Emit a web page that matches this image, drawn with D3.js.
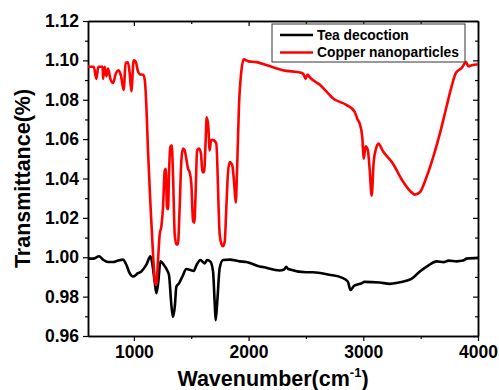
<!DOCTYPE html>
<html>
<head>
<meta charset="utf-8">
<script src="https://cdn.jsdelivr.net/npm/d3@7"></script>
<style>
	body { margin: 0; background: #fff; }
	svg text { font-family: "Liberation Sans", Arial, sans-serif; font-weight: bold; }
</style>
</head>
<body>
<div id="chart"></div>
<script>
// FTIR spectra (wavenumber in cm-1, transmittance)
const copperWn = [600, 650, 673, 690, 728, 731, 745, 760, 775, 795, 818, 845, 868, 888, 911, 928, 948, 963, 978, 998,
	1015, 1036, 1050, 1080, 1095, 1109, 1123, 1143, 1167, 1184, 1196, 1210, 1225, 1240, 1254, 1269, 1278, 1289, 1298, 1306,
	1318, 1330, 1341, 1356, 1370, 1384, 1399, 1414, 1428, 1443, 1457, 1472, 1486, 1501, 1516, 1527, 1539, 1551, 1568, 1585,
	1597, 1612, 1626, 1635, 1649, 1661, 1673, 1690, 1718, 1748, 1765, 1777, 1792, 1806, 1820, 1835, 1858, 1875, 1888, 1900,
	1916, 1936, 1957, 2000, 2067, 2183, 2299, 2459, 2480, 2497, 2515, 2530, 2619, 2704, 2735, 2852, 2924, 2950, 2968, 2991,
	3003, 3020, 3040, 3055, 3073, 3090, 3110, 3131, 3170, 3259, 3340, 3420, 3450, 3493, 3551, 3610, 3668, 3726, 3770, 3808,
	3858, 3896, 3915, 3945, 4000];
const copperT = [1.0968, 1.0968, 1.0906, 1.0968, 1.0968, 1.0906, 1.0968, 1.092, 1.0958, 1.0906, 1.0885, 1.0937, 1.095, 1.092, 1.085, 1.0988, 1.099, 1.0937, 1.0843, 1.1,
	1.0995, 1.0944, 1.093, 1.0927, 1.0901, 1.0766, 1.0543, 1.0287, 1.0013, 0.9876, 0.986, 0.998, 1.0116, 1.0158, 1.0253, 1.044, 1.0449, 1.0253, 1.0244, 1.042,
	1.056, 1.0569, 1.042, 1.0116, 1.0065, 1.0065, 1.0253, 1.0492, 1.0552, 1.0543, 1.05, 1.045, 1.0432, 1.0372, 1.0184, 1.0176, 1.0339, 1.0543, 1.0552, 1.0526,
	1.0432, 1.0432, 1.0595, 1.0711, 1.0663, 1.0543, 1.0595, 1.0595, 1.0578, 1.0116, 1.0065, 1.0056, 1.008, 1.0253, 1.0424, 1.0484, 1.0466, 1.037, 1.0278, 1.045,
	1.0766, 1.094, 1.1005, 1.0995, 1.0991, 1.0971, 1.095, 1.0937, 1.0928, 1.0906, 1.0928, 1.0916, 1.0877, 1.0826, 1.0808, 1.0774, 1.074, 1.07, 1.068, 1.0612,
	1.05, 1.0564, 1.0543, 1.045, 1.0313, 1.048, 1.055, 1.0578, 1.054, 1.0475, 1.039, 1.033, 1.0318, 1.033, 1.0407, 1.051, 1.0629, 1.0766, 1.0868, 1.0937,
	1.0962, 1.0991, 1.0971, 1.0975, 1.098];

const teaWn = [600, 650, 696, 731, 774, 818, 862, 905, 934, 963, 992, 1036, 1065, 1109, 1144, 1160, 1181, 1196, 1213, 1231,
	1260, 1289, 1306, 1327, 1341, 1358, 1370, 1393, 1422, 1458, 1487, 1522, 1545, 1580, 1597, 1618, 1638, 1667, 1690, 1704,
	1713, 1727, 1748, 1777, 1835, 1923, 1980, 2097, 2125, 2270, 2310, 2328, 2345, 2500, 2561, 2704, 2806, 2865, 2888, 2920,
	2950, 2982, 3010, 3142, 3230, 3310, 3420, 3493, 3566, 3639, 3700, 3745, 3814, 3870, 3902, 4000];
const teaT = [0.9993, 0.9993, 1.0005, 0.9988, 0.9976, 0.9976, 0.9983, 0.9988, 0.9962, 0.9919, 0.9902, 0.9919, 0.9928, 0.9962, 1.0005, 0.997, 0.9876, 0.9817, 0.9876, 0.9979,
	0.9962, 0.9935, 0.991, 0.9757, 0.9697, 0.9757, 0.985, 0.9867, 0.9901, 0.994, 0.9936, 0.9931, 0.9959, 0.9986, 0.9978, 0.9969, 0.9986, 0.9978, 0.9928, 0.9775,
	0.968, 0.9775, 0.9945, 0.9986, 0.9988, 0.9979, 0.9976, 0.9953, 0.995, 0.9933, 0.9938, 0.9952, 0.994, 0.9924, 0.9924, 0.9911, 0.9898, 0.9877, 0.9834, 0.9855,
	0.9862, 0.9867, 0.9875, 0.9872, 0.9865, 0.9872, 0.989, 0.9928, 0.9958, 0.9979, 0.9975, 0.9983, 0.9979, 0.9983, 0.9993, 0.9997];

const xTicks = [1000, 2000, 3000, 4000];
const xMinor = [1500, 2500, 3500];
const yTicks = [0.96, 0.98, 1.0, 1.02, 1.04, 1.06, 1.08, 1.1, 1.12];
const yMinor = [0.97, 0.99, 1.01, 1.03, 1.05, 1.07, 1.09, 1.11];

const series = [
	{ name: "Tea decoction", wn: teaWn, t: teaT, color: "#000000" },
	{ name: "Copper nanoparticles", wn: copperWn, t: copperT, color: "#ff0000" },
];

const W = 499, H = 390;
const margin = { top: 21, right: 21, bottom: 54, left: 88 };

const svg = d3.select("#chart").append("svg").attr("width", W).attr("height", H);

const x = d3.scaleLinear().domain([600, 4000]).range([margin.left, W - margin.right]);
const y = d3.scaleLinear().domain([0.96, 1.12]).range([H - margin.bottom, margin.top]);

const fmtY = d3.format(".2f");

// frame axes, outer ticks on bottom/left, inner on top/right
const axes = [
	{ axis: d3.axisBottom(x).tickValues(xTicks).tickSize(5).tickPadding(5).tickFormat(d3.format("d")), at: `translate(0,${H - margin.bottom})` },
	{ axis: d3.axisBottom(x).tickValues(xMinor).tickSize(3).tickFormat(""), at: `translate(0,${H - margin.bottom})` },
	{ axis: d3.axisLeft(y).tickValues(yTicks).tickSize(5).tickPadding(4).tickFormat(fmtY), at: `translate(${margin.left},0)` },
	{ axis: d3.axisLeft(y).tickValues(yMinor).tickSize(3).tickFormat(""), at: `translate(${margin.left},0)` },
	{ axis: d3.axisTop(x).tickValues(xTicks).tickSize(-5).tickFormat(""), at: `translate(0,${margin.top})` },
	{ axis: d3.axisTop(x).tickValues(xMinor).tickSize(-3).tickFormat(""), at: `translate(0,${margin.top})` },
	{ axis: d3.axisRight(y).tickValues(yTicks).tickSize(-5).tickFormat(""), at: `translate(${W - margin.right},0)` },
	{ axis: d3.axisRight(y).tickValues(yMinor).tickSize(-3).tickFormat(""), at: `translate(${W - margin.right},0)` },
];

axes.forEach((a) => {
	const g = svg.append("g").attr("transform", a.at).call(a.axis.tickSizeOuter(0));
	g.select(".domain").attr("stroke", "#000").attr("stroke-width", 1.5);
	g.selectAll(".tick line").attr("stroke", "#000").attr("stroke-width", 1.2);
	g.selectAll(".tick text").attr("font-size", 17.5).attr("fill", "#000");
});

// spectra
const line = d3.line().curve(d3.curveMonotoneX);
series.forEach((s) => {
	svg.append("path")
		.attr("d", line(s.wn.map((w, i) => [x(w), y(s.t[i])])))
		.attr("fill", "none")
		.attr("stroke", s.color)
		.attr("stroke-width", 2.6)
		.attr("stroke-linejoin", "round");
});

// legend
const leg = svg.append("g").attr("transform", "translate(272,24)");
leg.append("rect").attr("width", 193).attr("height", 38).attr("fill", "#fff").attr("stroke", "#333").attr("stroke-width", 1);
series.forEach((s, i) => {
	const ly = 11 + i * 17.5;
	leg.append("line").attr("x1", 8).attr("x2", 41).attr("y1", ly).attr("y2", ly)
		.attr("stroke", s.color).attr("stroke-width", 2.6);
	leg.append("text").attr("x", 45).attr("y", ly).attr("dy", "0.36em")
		.attr("font-size", 13.8).text(s.name);
});

// axis titles
svg.append("text")
	.attr("transform", `translate(30,${(margin.top + H - margin.bottom) / 2}) rotate(-90)`)
	.attr("text-anchor", "middle").attr("font-size", 21.5)
	.text("Transmittance(%)");

const xt = svg.append("text")
	.attr("x", 273).attr("y", 386)
	.attr("text-anchor", "middle").attr("font-size", 21.5);
xt.append("tspan").text("Wavenumber(cm");
xt.append("tspan").attr("font-size", 13).attr("dy", -9).text("-1");
xt.append("tspan").attr("dy", 9).text(")");
</script>
</body>
</html>
